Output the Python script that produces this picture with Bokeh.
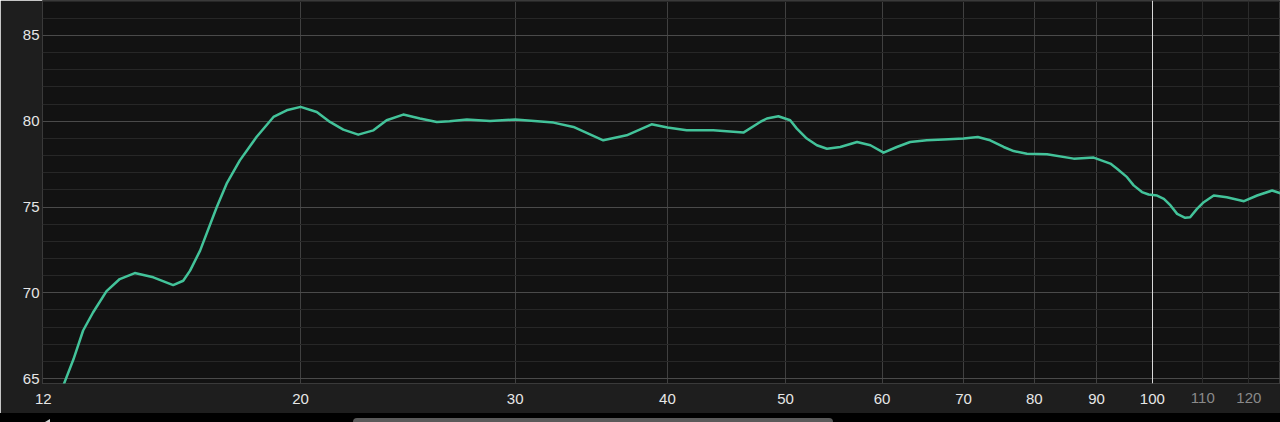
from bokeh.plotting import figure
from bokeh.layouts import column
from bokeh.models import Range1d, FixedTicker, Grid, LogAxis, Div
from bokeh.embed import file_html
from bokeh.resources import INLINE

# ---- data ----
freq = [12.55, 12.79, 13.02, 13.26, 13.51, 13.86, 14.21, 14.62, 15.14, 15.72, 16.02, 16.23, 16.54,
        17.07, 17.39, 17.83, 18.4, 19.0, 19.48, 20.0, 20.62, 21.14, 21.68, 22.3, 22.95, 23.53, 24.28,
        25.06, 25.87, 26.5, 27.38, 28.61, 30.0, 32.25, 33.49, 35.43, 37.03, 38.82, 40.0, 41.48, 43.62,
        46.17, 47.66, 48.27, 49.33, 50.44, 51.08, 52.05, 53.05, 54.07, 55.45, 57.24, 58.7, 60.18, 61.7,
        63.28, 65.3, 67.4, 70.0, 71.9, 73.6, 75.5, 76.94, 78.9, 81.96, 86.2, 89.5, 92.37, 93.55, 95.33,
        96.53, 98.06, 99.3, 100.9, 102.2, 103.5, 104.8, 106.4, 107.4, 108.8, 110.2, 112.3, 115.1, 118.9,
        121.9, 125.4, 128.0]
spl = [63.3, 64.7, 66.12, 67.8, 68.85, 70.1, 70.8, 71.15, 70.9, 70.45, 70.7, 71.29, 72.46,
       75.0, 76.36, 77.72, 79.08, 80.25, 80.64, 80.84, 80.54, 79.96, 79.51, 79.22, 79.47, 80.06, 80.39,
       80.16, 79.96, 80.0, 80.1, 80.02, 80.1, 79.92, 79.67, 78.89, 79.18, 79.82, 79.63, 79.47, 79.47,
       79.34, 79.96, 80.16, 80.29, 80.06, 79.57, 78.99, 78.6, 78.4, 78.5, 78.79, 78.6, 78.17, 78.5,
       78.79, 78.89, 78.93, 78.99, 79.08, 78.89, 78.5, 78.26, 78.11, 78.07, 77.82, 77.88, 77.53, 77.23, 76.74,
       76.26, 75.87, 75.73, 75.67, 75.48, 75.09, 74.6, 74.37, 74.4, 74.89, 75.28, 75.67, 75.57, 75.34,
       75.67, 75.96, 75.75]

x_ticks = [12.3, 20, 30, 40, 50, 60, 70, 80, 90, 100]
x_labels = ["12", "20", "30", "40", "50", "60", "70", "80", "90", "100"]
x_grid_main = [20, 30, 40, 50, 60, 70, 80, 90]
x_grid_hi = [100]
x_dim_ticks = [110, 120]
y_ticks = [65, 70, 75, 80, 85]
y_minor = [64, 66, 67, 68, 69, 71, 72, 73, 74, 76, 77, 78, 79, 81, 82, 83, 84, 86, 87]

FONT = "Liberation Sans"
X0, X1 = 12.28, 127.4
Y0, Y1 = 64.71, 87.04

p = figure(width=1280, height=413, x_axis_type="log",
           x_range=Range1d(X0, X1), y_range=Range1d(Y0, Y1),
           output_backend="svg", toolbar_location=None,
           min_border_left=42, min_border_right=0, min_border_top=0, min_border_bottom=30)

p.background_fill_color = "#121212"
p.border_fill_color = "#1e1e1e"
p.outline_line_color = "#3a3a3a"

def style_axis(ax, color, standoff):
    ax.major_label_text_color = color
    ax.major_label_text_font = FONT
    ax.major_label_text_font_size = "15px"
    ax.major_label_standoff = standoff
    ax.axis_line_color = None
    ax.major_tick_line_color = None
    ax.minor_tick_line_color = None
    ax.major_tick_out = 0
    ax.major_tick_in = 0
    ax.minor_tick_out = 0
    ax.minor_tick_in = 0

# x axis
xa = p.xaxis[0]
xa.ticker = FixedTicker(ticks=x_ticks, minor_ticks=[])
xa.major_label_overrides = {t: l for t, l in zip(x_ticks, x_labels)}
style_axis(xa, "#e6e6e6", 10)

# dimmed labels for 110 / 120 on a second axis drawn on the same row
xa2 = LogAxis(ticker=FixedTicker(ticks=x_dim_ticks, minor_ticks=[]))
style_axis(xa2, "#8a8a8a", -14)
p.add_layout(xa2, "below")

# y axis
ya = p.yaxis[0]
ya.ticker = FixedTicker(ticks=y_ticks, minor_ticks=y_minor)
style_axis(ya, "#e6e6e6", 3)

# grids
p.xgrid.ticker = FixedTicker(ticks=x_grid_main)
p.xgrid.grid_line_color = "#404040"
p.ygrid.grid_line_color = "#4a4a4a"
p.ygrid.minor_grid_line_color = "#272727"
p.add_layout(Grid(dimension=0, ticker=FixedTicker(ticks=x_grid_hi), grid_line_color="#d8d8d8"))
p.add_layout(Grid(dimension=0, ticker=FixedTicker(ticks=x_dim_ticks), grid_line_color="#2b2b2b"))

# response curve
p.line(freq, spl, line_color="#43c39a", line_width=2.5, line_join="round")

# bottom scroll strip (UI chrome of the original screenshot)
strip = Div(width=1280, height=9, margin=0,
            styles={"background-color": "#000000", "overflow": "hidden"},
            text=('<div style="position:relative;width:1280px;height:9px;background:#000;">'
                  '<div style="position:absolute;left:45px;top:3px;width:0;height:0;'
                  'border-top:3px solid transparent;border-bottom:3px solid transparent;'
                  'border-right:5px solid #d0d0d0;"></div>'
                  '<div style="position:absolute;left:353px;top:2px;width:480px;height:9px;'
                  'background:#5a5a5a;border-radius:4px;"></div></div>'))

layout = column(p, strip, spacing=0)
open("out.html", "w").write(file_html(layout, INLINE))
